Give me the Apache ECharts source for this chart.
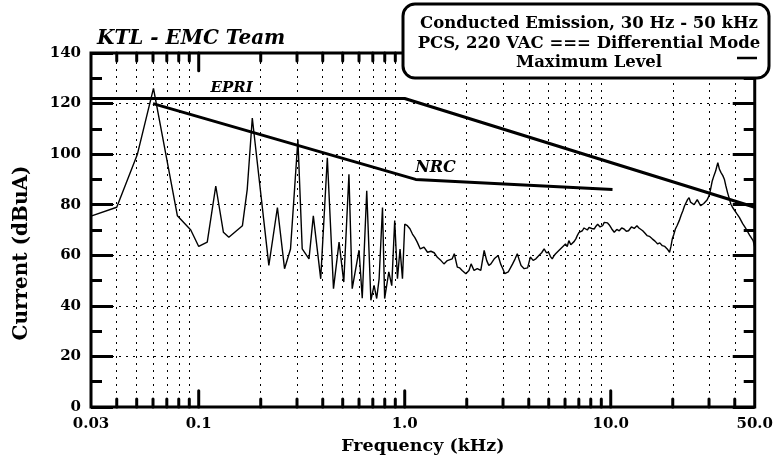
<!DOCTYPE html>
<html><head><meta charset="utf-8">
<script src="https://cdn.jsdelivr.net/npm/echarts@6/dist/echarts.min.js"></script>
<style>html,body{margin:0;padding:0;background:#fff}#c{width:776px;height:460px}</style>
</head><body><div id="c"></div>
<script>
// ---- data (frequency in kHz, level in dBuA) ----
const freqKHz = [
 0.03,0.04,0.0504,0.0603,0.0788,0.0915,0.1,0.110,0.121,0.1318,0.140,0.163,0.172,0.182,
 0.219,0.241,0.261,0.279,0.303,0.318,0.343,0.360,0.391,0.421,0.451,0.480,0.506,0.536,
 0.556,0.600,0.622,0.654,0.685,0.710,0.731,0.751,0.780,0.799,0.837,0.865,0.894,0.922,0.949,0.975,
 1.0,1.03,1.06,1.09,1.12,1.15,1.19,1.24,1.29,1.34,1.39,1.44,1.50,1.55,1.61,1.66,1.70,1.74,1.80,1.85,1.90,1.98,
 2.05,2.10,2.17,2.25,2.34,2.43,2.50,2.56,2.62,2.72,2.84,2.92,3.00,3.06,3.18,3.26,3.34,3.43,3.52,3.60,3.67,3.80,3.95,
 4.07,4.20,4.33,4.48,4.62,4.75,4.87,4.99,5.10,5.20,5.30,5.40,5.60,5.81,5.92,6.03,6.15,6.26,6.40,6.51,6.65,6.77,6.90,
 7.02,7.15,7.28,7.42,7.56,7.70,7.85,8.08,8.32,8.48,8.64,8.88,9.13,9.30,9.48,9.65,9.84,10.1,10.4,10.7,11.0,11.3,11.6,11.9,
 12.2,12.6,13.0,13.4,13.7,14.0,14.3,14.6,15.0,15.4,15.9,16.4,16.9,17.3,17.8,18.3,18.8,19.3,19.6,19.9,20.2,20.6,21.0,21.5,
 22.0,22.4,22.8,23.2,23.6,24.0,24.4,24.9,25.4,25.9,26.3,26.8,27.3,27.8,28.3,28.9,29.4,30.0,30.5,31.1,31.7,32.3,32.7,33.1,
 33.7,34.3,35.0,35.6,36.2,36.9,37.6,38.3,39.0,39.7,40.9,42.1,43.7,45.4,47.2,49.1,50
];
const levelDbuA = [
 75.5,79,100,126,75.6,70,63.5,65.2,87.4,69.1,67.1,71.7,86.1,114.3,
 56,78.9,54.7,62.5,105.8,62.5,58.6,75.6,50.7,98.6,46.8,65.2,49.4,92,
 46.8,62,43,85.5,42.2,48.1,42.9,50.7,78.9,42.9,53.4,48,73.7,50.7,62.5,50.7,
 72.3,71.7,70.5,68.4,67.0,65.2,62.5,63.2,61.2,61.6,61.0,59.2,57.9,56.6,57.9,58.3,58.6,60.6,55.3,55.0,54.0,52.7,
 54.0,56.6,54.0,54.7,54.0,61.9,57.9,56.0,56.6,58.6,59.9,56.6,54.5,52.7,53.4,55.0,56.6,58.5,60.6,58.0,56.0,54.7,55.0,
 59.3,58.0,58.6,59.9,61.0,62.5,61.0,61.2,59.5,58.6,59.8,60.6,61.9,63.2,62.8,64.5,63.4,65.8,64.2,63.8,65.5,66.5,68.0,
 69.1,68.5,69.7,70.8,70.4,70.0,71.0,70.6,70.4,71.5,72.3,71.2,71.7,73.0,73.7,72.8,72.0,70.5,69.1,70.2,69.7,70.8,70.4,69.5,
 69.7,71.2,70.6,71.7,70.8,71.0,69.7,68.9,67.8,67.5,66.5,65.6,64.5,64.9,63.8,63.5,62.5,61.2,63.5,66.5,68.0,70.4,71.8,73.7,
 76.0,77.6,79.5,80.2,82.0,82.8,81.0,81.5,80.0,80.2,82.0,81.5,79.6,79.6,80.5,80.9,82.0,83.5,86.0,89.4,91.5,93.3,95.0,96.6,
 94.0,92.7,91.5,90.1,87.5,84.8,82.5,80.2,79.0,78.3,76.5,75.0,72.5,70.4,68.0,65.8,63.2
];
const epriFreq = [0.03, 1.0, 50];
const epriLevel = [122, 122, 79];
const nrcFreq = [0.06, 1.13, 10.2];
const nrcLevel = [120, 90, 86];

// ---- axis ticks / labels ----
const xTickValues = [0.03, 0.1, 1, 10, 50];
const xTickLabels = ['0.03', '0.1', '1.0', '10.0', '50.0'];
const xMajorTicks = [0.1, 1, 10];
const xMinorTicks = [0.04,0.05,0.06,0.07,0.08,0.09,0.2,0.3,0.4,0.5,0.6,0.7,0.8,0.9,2,3,4,5,6,7,8,9,20,30,40];
const yMin = 0, yMax = 140, yStep = 20;
const titleText = 'KTL - EMC Team';
const xTitle = 'Frequency (kHz)';
const yTitle = 'Current (dBuA)';
const boxLines = ['Conducted Emission, 30 Hz - 50 kHz', 'PCS, 220 VAC === Differential Mode', 'Maximum Level'];
const epriName = 'EPRI', nrcName = 'NRC';
const epriLabelAt = [0.1446, 126.2];
const nrcLabelAt = [1.41, 94.4];

const FONT = '"DejaVu Serif", serif';
const chart = echarts.init(document.getElementById('c'), null, {renderer: 'canvas'});

const pair = (a, b) => a.map((v, i) => [v, b[i]]);
const gridLines = xMinorTicks.map(v => ({xAxis: v}));
// each tick: [x, yFrom, yTo]
const tickData = [].concat(
  xMinorTicks.map(v => [v, yMin, yMin + 3.2]),
  xMajorTicks.map(v => [v, yMin, yMin + 6.4]),
  xMinorTicks.map(v => [v, yMax, yMax - 3.2]),
  xMajorTicks.map(v => [v, yMax, yMax - 7])
);

function xLabel(v) {
  for (let i = 0; i < xTickValues.length; i++) {
    if (Math.abs(Math.log10(v) - Math.log10(xTickValues[i])) < 0.01) return xTickLabels[i];
  }
  return '';
}

const yAxisBase = {
  type: 'value', min: yMin, max: yMax, interval: yStep,
  axisLine: {show: false},
  axisTick: {show: true, inside: true, length: 22, lineStyle: {color: '#000', width: 3}},
  minorTick: {show: true, splitNumber: 2, length: 11, lineStyle: {color: '#000', width: 3}},
  minorSplitLine: {show: false}
};

chart.setOption({
  animation: false,
  backgroundColor: '#fff',
  title: {
    text: titleText, left: 92, top: 24,
    textStyle: {fontFamily: FONT, fontStyle: 'italic', fontWeight: 'bold', fontSize: 20, color: '#000'}
  },
  grid: {left: 91, right: 20, top: 53, bottom: 51, show: true, borderColor: '#000', borderWidth: 3, containLabel: false},
  xAxis: {
    type: 'log', logBase: 10, min: 0.03, max: 50,
    axisLine: {show: false}, axisTick: {show: false}, splitLine: {show: false}, minorTick: {show: false},
    axisLabel: {show: true, margin: 10, formatter: xLabel, color: '#000',
      fontFamily: FONT, fontWeight: 'bold', fontSize: 15, showMinLabel: true, showMaxLabel: true},
    name: xTitle, nameLocation: 'middle', nameGap: 30,
    nameTextStyle: {fontFamily: FONT, fontWeight: 'bold', fontSize: 17.5, color: '#000'}
  },
  yAxis: [
    Object.assign({}, yAxisBase, {
      position: 'left',
      axisLabel: {show: true, margin: 10, color: '#000', fontFamily: FONT, fontWeight: 'bold', fontSize: 15},
      splitLine: {show: true, lineStyle: {color: '#000', width: 1, type: [2, 5]}}
    }),
    Object.assign({}, yAxisBase, {
      position: 'right',
      axisLabel: {show: false},
      splitLine: {show: false}
    })
  ],
  series: [
    {
      name: 'grid', type: 'line', data: [[0.03, 0]], symbol: 'none', silent: true, z: 1,
      lineStyle: {opacity: 0},
      markLine: {silent: true, symbol: ['none', 'none'], label: {show: false}, animation: false,
        lineStyle: {color: '#000', width: 1, type: [2, 5]}, emphasis: {disabled: true},
        data: gridLines}
    },
    {
      name: 'ticks', type: 'custom', silent: true, z: 5, clip: false,
      encode: {x: 0, y: 1},
      data: tickData,
      renderItem: function (params, api) {
        const p0 = api.coord([api.value(0), api.value(1)]);
        const p1 = api.coord([api.value(0), api.value(2)]);
        return {type: 'line', shape: {x1: p0[0], y1: p0[1], x2: p1[0], y2: p1[1]},
          style: {stroke: '#000', lineWidth: 3, lineCap: 'round'}};
      }
    },
    {
      name: 'Maximum Level', type: 'line', data: pair(freqKHz, levelDbuA), symbol: 'none', z: 3,
      lineStyle: {color: '#000', width: 1.4}
    },
    {
      name: epriName, type: 'line', data: pair(epriFreq, epriLevel), symbol: 'none', z: 4,
      lineStyle: {color: '#000', width: 3},
      markPoint: {symbol: 'circle', symbolSize: 0, silent: true,
        label: {show: true, formatter: epriName, color: '#000', fontFamily: FONT, fontStyle: 'italic', fontWeight: 'bold', fontSize: 15},
        data: [{coord: epriLabelAt}]}
    },
    {
      name: nrcName, type: 'line', data: pair(nrcFreq, nrcLevel), symbol: 'none', z: 4,
      lineStyle: {color: '#000', width: 3},
      markPoint: {symbol: 'circle', symbolSize: 0, silent: true,
        label: {show: true, formatter: nrcName, color: '#000', fontFamily: FONT, fontStyle: 'italic', fontWeight: 'bold', fontSize: 16},
        data: [{coord: nrcLabelAt}]}
    }
  ],
  graphic: [
    {type: 'text', x: 22, y: 253, rotation: Math.PI / 2, z: 100,
      style: {text: yTitle, font: 'bold 20px ' + FONT, fill: '#000', textAlign: 'center', textVerticalAlign: 'middle'}},
    {type: 'rect', z: 100, shape: {x: 403, y: 4, width: 366, height: 74, r: 12},
      style: {fill: '#fff', stroke: '#000', lineWidth: 3}},
    {type: 'text', z: 101, x: 589, y: 24, style: {text: boxLines[0], font: 'bold 16.5px ' + FONT, fill: '#000', textAlign: 'center', textVerticalAlign: 'middle'}},
    {type: 'text', z: 101, x: 589, y: 44, style: {text: boxLines[1], font: 'bold 16.5px ' + FONT, fill: '#000', textAlign: 'center', textVerticalAlign: 'middle'}},
    {type: 'text', z: 101, x: 589, y: 63, style: {text: boxLines[2], font: 'bold 16.5px ' + FONT, fill: '#000', textAlign: 'center', textVerticalAlign: 'middle'}},
    {type: 'line', z: 101, shape: {x1: 737, y1: 58, x2: 757, y2: 58}, style: {stroke: '#000', lineWidth: 2.5}}
  ]
});
</script>
</body></html>
